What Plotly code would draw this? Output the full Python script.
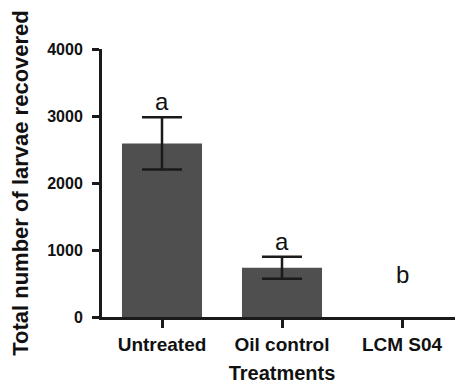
import plotly.graph_objects as go

categories = ["Untreated", "Oil control", "LCM S04"]
means = [2590, 736, 0]
errors = [390, 164, 0]
letters = ["a", "a", "b"]
y_ticks = [0, 1000, 2000, 3000, 4000]

axis_color = "#1a1a1a"
bar_color = "#4f4f4f"
font_family = "Liberation Sans, Arial, sans-serif"

fig = go.Figure()
fig.add_trace(go.Bar(
    x=categories,
    y=means,
    width=0.667,
    marker=dict(color=bar_color, line=dict(width=0)),
    showlegend=False,
))

# error bars only where there is a non-zero error
eb = [(c, m, e) for c, m, e in zip(categories, means, errors) if e > 0]
fig.add_trace(go.Scatter(
    x=[c for c, _, _ in eb],
    y=[m for _, m, _ in eb],
    mode="markers",
    marker=dict(size=1, opacity=0),
    error_y=dict(type="data", array=[e for _, _, e in eb], visible=True,
                 color=axis_color, thickness=2.5, width=20),
    showlegend=False, hoverinfo="skip",
))

for cat, m, e, lab in zip(categories, means, errors, letters):
    top = m + e
    fig.add_annotation(
        x=cat, y=top, text=lab, showarrow=False,
        yanchor="bottom", yshift=(0 if top > 0 else 27),
        font=dict(family=font_family, size=24, color="#111111"),
    )

fig.update_layout(
    width=455, height=376,
    margin=dict(l=94, r=1, t=41, b=67),
    paper_bgcolor="white", plot_bgcolor="white",
    font=dict(family=font_family, color="#111111"),
)
fig.update_xaxes(
    range=[-0.5, 2.5],
    showline=True, linecolor=axis_color, linewidth=3,
    ticks="outside", ticklen=8, tickwidth=3, tickcolor=axis_color,
    tickfont=dict(family=font_family, size=19, color="#111111", weight="bold"),
    title=dict(text="<b>Treatments</b>", font=dict(family=font_family, size=20, color="#111111"), standoff=13),
    showgrid=False, zeroline=False, automargin=False,
)
fig.update_yaxes(
    range=[0, 4000], tickvals=y_ticks,
    showline=True, linecolor=axis_color, linewidth=3,
    ticks="outside", ticklen=7, tickwidth=3, tickcolor=axis_color,
    tickfont=dict(family=font_family, size=16, color="#111111", weight="bold"),
    ticklabelstandoff=6,
    title=dict(text="<b>Total number of larvae recovered</b>", font=dict(family=font_family, size=22, color="#111111"), standoff=18),
    showgrid=False, zeroline=False, automargin=False,
)

fig.write_html("out.html")
